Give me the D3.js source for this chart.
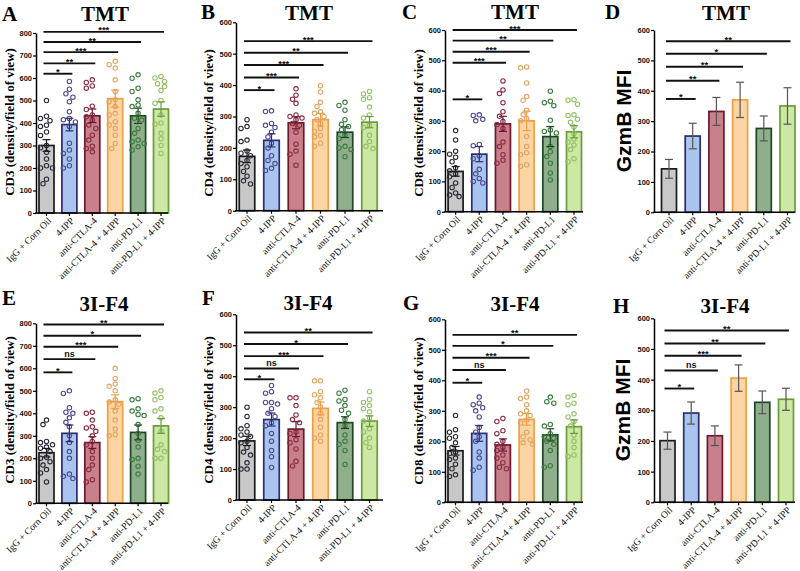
<!DOCTYPE html>
<html><head><meta charset="utf-8">
<script src="https://cdn.jsdelivr.net/npm/d3@7"></script>
<style>body{margin:0;background:#fff} svg{display:block}</style>
</head><body>
<svg id="chart" width="800" height="571"></svg>
<script>
// ---------- categories & styles ----------
const groups = ["IgG + Corn Oil","4-IPP","anti-CTLA-4","anti-CTLA-4 + 4-IPP","anti-PD-L1","anti-PD-L1 + 4-IPP"];
const fillColors   = ["#c8c8c8","#a9c5ef","#c8808a","#fdd4a3","#8fae8c","#cde7a5"];
const strokeColors = ["#1a1a1a","#2c2c6e","#6e1830","#eea044","#1f4622","#6b9c3a"];
const dotColors    = ["#2a2a38","#4b4b92","#8a2c44","#e2a462","#3b7b3e","#93c264"];
const yTicks800 = [0,100,200,300,400,500,600,700,800];
const yTicks600 = [0,100,200,300,400,500,600];

// ---------- A: CD3 TMT ----------
const aMeans = [300, 393, 432, 508, 432, 462];
const aSem   = [26, 28, 30, 38, 34, 32];
const aDots = [
  [500,430,420,410,390,385,360,345,300,290,270,240,210,200,200,150,130],
  [585,550,530,515,495,450,420,415,405,385,310,280,265,240,210,200],
  [592,580,565,555,475,460,436,428,413,391,376,346,324,297,287,272],
  [674,659,644,592,540,503,495,473,443,436,406,391,376,346,309,287],
  [614,599,555,540,503,480,473,443,421,413,376,354,324,317,309,294,280],
  [607,600,585,575,562,545,500,488,436,400,395,354,330,300,265]
];
const aSig = [619, 665, 715, 760, 805];
const aSigLabels = ["*","**","***","**","***"];

// ---------- B: CD4 TMT ----------
const bMeans = [173, 224, 280, 290, 250, 282];
const bSem   = [20, 21, 19, 20, 17, 18];
const bDots = [
  [290,268,262,225,220,190,183,175,160,150,140,125,110,95,85],
  [318,316,278,272,265,250,235,215,200,175,160,150,135,128],
  [388,368,355,342,305,300,295,290,278,272,250,212,190,180,145],
  [398,378,345,332,315,310,300,290,278,262,252,240,235,215,205],
  [345,335,320,290,275,268,258,240,230,205,200,195,172],
  [380,372,360,355,330,305,295,272,265,240,220,205,198]
];
const bSig = [384, 424, 464, 503, 540];
const bSigLabels = ["*","***","***","**","***"];

// ---------- C: CD8 TMT ----------
const cMeans = [133, 190, 290, 300, 248, 264];
const cSem   = [16, 25, 25, 32, 33, 20];
const cDots = [
  [268,237,200,190,180,165,145,135,125,115,95,80,62,55,50],
  [320,318,305,300,222,218,185,175,140,125,110,100,95],
  [432,402,390,360,330,315,298,288,275,230,215,188,170,160],
  [478,475,425,380,368,335,320,308,300,248,215,195,188,155,150],
  [398,365,360,350,302,270,265,260,215,198,182,160,128,105],
  [370,368,355,320,318,305,295,280,258,240,230,220,205,175,165]
];
const cSig = [371, 492, 528, 565, 600];
const cSigLabels = ["*","***","***","**","***"];

// ---------- D: GzmB TMT ----------
const dMeans = [143, 251, 332, 370, 276, 350];
const dSem   = [31, 42, 46, 58, 41, 60];
const dSig = [373, 433, 479, 522, 563];
const dSigLabels = ["*","**","**","*","**"];

// ---------- E: CD3 3I-F4 ----------
const eMeans = [225, 311, 270, 452, 315, 344];
const eSem   = [19, 37, 26, 30, 33, 33];
const eDots = [
  [370,350,275,270,260,250,245,230,205,200,185,170,150,135,95],
  [500,488,425,405,400,380,360,340,300,270,230,200,130,120,110],
  [405,400,370,340,335,320,300,275,260,230,200,170,150,105,95],
  [600,555,530,520,500,460,450,440,410,370,330,305,300],
  [465,460,420,410,395,390,350,310,280,250,200,195,165,130],
  [500,490,470,460,420,410,380,320,260,240,230,200,200]
];
const eSig = [582, 641, 696, 745, 795];
const eSigLabels = ["*","ns","***","*","**"];

// ---------- F: CD4 3I-F4 ----------
const fMeans = [191, 260, 229, 296, 250, 255];
const fSem   = [15, 21, 24, 21, 19, 17];
const fDots = [
  [300,270,240,230,220,210,205,190,185,170,155,145,120,100,100],
  [370,350,345,315,315,310,295,280,270,250,240,215,190,160,140,105],
  [330,330,305,275,260,250,220,215,195,185,165,125,110],
  [385,385,350,340,330,315,300,280,260,235,210,200,190],
  [355,345,325,320,305,290,280,260,240,210,190,180,160,115],
  [350,325,315,305,295,285,265,255,230,220,200,185,170]
];
const fSig = [390, 425, 465, 504, 541];
const fSigLabels = ["*","ns","***","*","**"];

// ---------- G: CD8 3I-F4 ----------
const gMeans = [169, 226, 188, 272, 221, 248];
const gSem   = [14, 26, 20, 19, 20, 22];
const gDots = [
  [285,238,230,215,210,195,180,165,160,145,140,125,110,90,85],
  [345,325,320,310,300,280,245,230,215,200,165,145,115,105],
  [275,265,235,225,200,190,180,170,155,145,130,115,110],
  [365,345,340,320,300,290,285,270,260,230,215,205,195,190],
  [345,330,325,255,250,225,215,210,200,190,170,120,115],
  [350,345,325,320,290,280,265,250,220,200,180,155,150]
];
const gSig = [392, 434, 474, 513, 549];
const gSigLabels = ["*","ns","***","*","**"];

// ---------- H: GzmB 3I-F4 ----------
const hMeans = [201, 291, 217, 405, 326, 336];
const hSem   = [28, 36, 32, 43, 37, 36];
const hSig = [371, 430, 478, 518, 560];
const hSigLabels = ["*","ns","***","**","**"];

// ---------- layout (positions only) ----------
const panels = [
 {letter:"A", lx:2,   ly:21,  title:"TMT",   tx:105, ty:20.5, ylab:"CD3 (density/field of view)", ylx:9,   ylc:122, sans:false, ymax:800, ticks:yTicks800, axisX:36,  xEnd:168, yTop:33,    yBot:213,   c0:46.5,  cN:161,   w:15, means:aMeans, sem:aSem, dots:aDots, sig:aSig, sigL:aSigLabels},
 {letter:"B", lx:201, ly:19,  title:"TMT",   tx:309, ty:20,   ylab:"CD4 (density/field of view)", ylx:208, ylc:123, sans:false, ymax:600, ticks:yTicks600, axisX:236, xEnd:383, yTop:22.3,  yBot:210.7, c0:247,   cN:369.5, w:15.5, means:bMeans, sem:bSem, dots:bDots, sig:bSig, sigL:bSigLabels},
 {letter:"C", lx:402, ly:19,  title:"TMT",   tx:515, ty:19,   ylab:"CD8 (density/field of view)", ylx:418, ylc:123, sans:false, ymax:600, ticks:yTicks600, axisX:445, xEnd:583, yTop:30,    yBot:211.7, c0:455.6, cN:574,   w:15, means:cMeans, sem:cSem, dots:cDots, sig:cSig, sigL:cSigLabels},
 {letter:"D", lx:605, ly:19,  title:"TMT",   tx:726, ty:20,   ylab:"GzmB MFI",                    ylx:624, ylc:121, sans:true,  ymax:600, ticks:yTicks600, axisX:654, xEnd:795, yTop:30,    yBot:212.3, c0:669,   cN:787.5, w:15, means:dMeans, sem:dSem, dots:null,  sig:dSig, sigL:dSigLabels},
 {letter:"E", lx:2,   ly:305, title:"3I-F4", tx:104, ty:311,  ylab:"CD3 (density/field of view)", ylx:9,   ylc:410, sans:false, ymax:800, ticks:yTicks800, axisX:36,  xEnd:168, yTop:323.3, yBot:503.3, c0:46.5,  cN:161,   w:15, means:eMeans, sem:eSem, dots:eDots, sig:eSig, sigL:eSigLabels},
 {letter:"F", lx:202, ly:305, title:"3I-F4", tx:308, ty:310,  ylab:"CD4 (density/field of view)", ylx:208, ylc:410, sans:false, ymax:600, ticks:yTicks600, axisX:236, xEnd:383, yTop:314.3, yBot:500,   c0:247,   cN:369.5, w:15.5, means:fMeans, sem:fSem, dots:fDots, sig:fSig, sigL:fSigLabels},
 {letter:"G", lx:403, ly:310, title:"3I-F4", tx:515, ty:311,  ylab:"CD8 (density/field of view)", ylx:418, ylc:411, sans:false, ymax:600, ticks:yTicks600, axisX:445, xEnd:583, yTop:319.3, yBot:502.3, c0:455.5, cN:574,   w:15, means:gMeans, sem:gSem, dots:gDots, sig:gSig, sigL:gSigLabels},
 {letter:"H", lx:613, ly:313, title:"3I-F4", tx:725, ty:313,  ylab:"GzmB MFI",                    ylx:623, ylc:410, sans:true,  ymax:600, ticks:yTicks600, axisX:654, xEnd:795, yTop:318.3, yBot:502.3, c0:667.5, cN:786,   w:15, means:hMeans, sem:hSem, dots:null,  sig:hSig, sigL:hSigLabels}
];

const svg = d3.select("#chart");
const SERIF = "'Liberation Serif','Times New Roman',serif";
const SANS  = "'Liberation Sans',Arial,sans-serif";

function swarm(values, yScale, r, maxOff){
  const order = values.map((v,i)=>i).sort((a,b)=>values[b]-values[a]);
  const placed = [];
  const offs = new Array(values.length).fill(0);
  const cands = [0,-3.5,3.5,-6,6];
  order.forEach(i=>{
    const py = yScale(values[i]);
    let best = 0, bestD = -1;
    for (const c of cands){
      if (Math.abs(c) > maxOff) continue;
      let md = Infinity;
      placed.forEach(p=>{ const d = Math.hypot(p.x-c, p.y-py); if (d<md) md=d; });
      if (md >= 2*r+0.4){ best = c; bestD = Infinity; break; }
      if (md > bestD){ bestD = md; best = c; }
    }
    offs[i] = best;
    placed.push({x:best, y:py});
  });
  return offs;
}

panels.forEach(p=>{
  const g = svg.append("g");
  const y = d3.scaleLinear().domain([0,p.ymax]).range([p.yBot, p.yTop]);
  const s = (p.cN - p.c0)/5;
  const pin = 1 - p.w/s;
  const x = d3.scaleBand().domain(groups)
     .range([p.c0 - s/2, p.c0 - s/2 + 6*s]).paddingInner(pin).paddingOuter(pin/2);
  const bw = x.bandwidth();
  const cx = i => x(groups[i]) + bw/2;

  // bars
  g.selectAll("rect.bar").data(p.means).join("rect").attr("class","bar")
    .attr("x",(d,i)=>x(groups[i])).attr("y",d=>y(d))
    .attr("width",bw).attr("height",d=>y(0)-y(d))
    .attr("fill",(d,i)=>fillColors[i]).attr("stroke",(d,i)=>strokeColors[i])
    .attr("stroke-width",1.7);

  // dots
  if (p.dots){
    p.dots.forEach((vals,gi)=>{
      const offs = swarm(vals, y, 2.3, bw/2 - 1);
      g.append("g").selectAll("circle").data(vals).join("circle")
        .attr("cx",(d,k)=>cx(gi)+offs[k]).attr("cy",d=>y(d)).attr("r",2.2)
        .attr("fill","none").attr("stroke",dotColors[gi]).attr("stroke-width",1.1);
    });
  }

  // error bars
  const ebColor = i => p.dots ? strokeColors[i] : "#555";
  const capW = 4;
  p.means.forEach((m,i)=>{
    const lo = y(m - p.sem[i]), hi = y(m + p.sem[i]), c = cx(i);
    const eg = g.append("g").attr("stroke",ebColor(i)).attr("stroke-width",1.2);
    eg.append("line").attr("x1",c).attr("x2",c).attr("y1",lo).attr("y2",hi);
    eg.append("line").attr("x1",c-capW).attr("x2",c+capW).attr("y1",lo).attr("y2",lo);
    eg.append("line").attr("x1",c-capW).attr("x2",c+capW).attr("y1",hi).attr("y2",hi);
  });

  // y axis
  const ya = g.append("g").attr("transform",`translate(${p.axisX},0)`)
    .call(d3.axisLeft(y).tickValues(p.ticks).tickSize(3).tickSizeOuter(0).tickPadding(1));
  ya.select(".domain").attr("stroke","#000").attr("stroke-width",1.5);
  ya.selectAll(".tick line").attr("stroke","#000").attr("stroke-width",1.2);
  ya.selectAll(".tick text").attr("font-family",SANS).attr("font-weight","bold")
    .attr("font-size","7.5px").attr("fill","#111");

  // x axis
  const xa = g.append("g").attr("transform",`translate(0,${p.yBot})`)
    .call(d3.axisBottom(x).tickSize(3).tickSizeOuter(0).tickFormat(""));
  xa.select(".domain").remove();
  xa.selectAll(".tick line").attr("stroke","#000").attr("stroke-width",1.2);
  g.append("line").attr("x1",p.axisX-0.75).attr("x2",p.xEnd).attr("y1",p.yBot).attr("y2",p.yBot)
    .attr("stroke","#000").attr("stroke-width",1.5);

  // x labels
  g.selectAll("text.xl").data(groups).join("text").attr("class","xl")
    .attr("transform",(d,i)=>`translate(${cx(i)+3},${p.yBot+6}) rotate(-45)`)
    .attr("text-anchor","end").attr("dy","0.35em")
    .attr("font-family",SERIF).attr("font-size","9.6px").attr("fill","#111")
    .text(d=>d);

  // significance
  p.sig.forEach((v,k)=>{
    const x1 = cx(0) - 3, x2 = cx(k+1) + 3, yy = y(v);
    g.append("line").attr("x1",x1).attr("x2",x2).attr("y1",yy).attr("y2",yy)
      .attr("stroke","#111").attr("stroke-width",1.9);
    const lab = p.sigL[k];
    g.append("text").attr("x",(x1+x2)/2).attr("y", lab==="ns" ? yy-2 : yy+1.5)
      .attr("text-anchor","middle").attr("font-family",SANS).attr("font-weight","bold")
      .attr("font-size", lab==="ns" ? "9px" : "9.5px").attr("fill","#111").text(lab);
  });

  // y title
  g.append("text").attr("transform",`translate(${p.ylx},${p.ylc}) rotate(-90)`)
    .attr("text-anchor","middle").attr("dy","0.35em")
    .attr("font-family", p.sans ? SANS : SERIF).attr("font-weight","bold")
    .attr("font-size", p.sans ? "21px" : "13px").attr("fill","#000").text(p.ylab);

  // panel title & letter
  g.append("text").attr("x",p.tx).attr("y",p.ty).attr("text-anchor","middle")
    .attr("font-family",SERIF).attr("font-weight","bold").attr("font-size","21px").text(p.title);
  g.append("text").attr("x",p.lx).attr("y",p.ly)
    .attr("font-family",SERIF).attr("font-weight","bold").attr("font-size","21px").text(p.letter);
});
</script>
</body></html>
